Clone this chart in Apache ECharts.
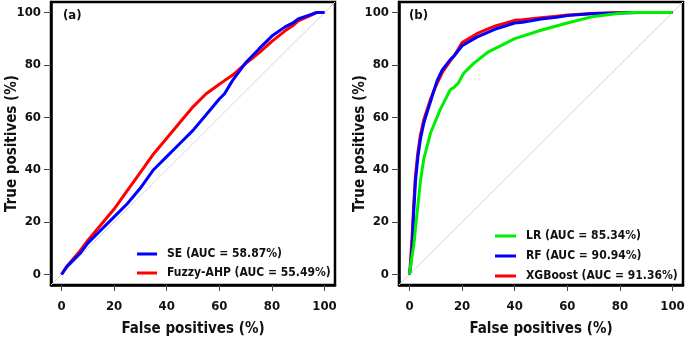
<!DOCTYPE html>
<html>
<head>
<meta charset="utf-8">
<script src="https://cdn.jsdelivr.net/npm/echarts@6/dist/echarts.min.js"></script>
<style>
  html, body { margin: 0; padding: 0; background: #fff; }
  #chart { width: 685px; height: 338px; }
</style>
</head>
<body>
<div id="chart"></div>
<script>
// tick labels shared by both panels
var ticks = [0, 20, 40, 60, 80, 100];

// panel (a)
var seX = [0, 2, 4, 7, 10, 15, 20, 25, 30, 35, 40, 45, 50, 55, 60, 62, 65, 70, 75, 80, 85, 88, 90, 95, 97, 100];
var seY = [0, 3, 5, 8, 12, 17, 22, 27, 33, 40, 45, 50, 55, 61, 67, 69, 74, 80.8, 86, 91, 94.5, 96, 97.5, 99.3, 100, 100];
var ahpX = [0, 2, 4, 7, 10, 15, 20, 25, 30, 35, 40, 45, 50, 55, 60, 62, 65, 70, 75, 80, 85, 88, 90, 95, 97, 100];
var ahpY = [0, 3, 5.5, 9, 13, 19, 25, 32, 39, 46, 52, 58, 64, 69, 72.6, 74, 76, 80.5, 84.5, 89, 93, 95, 96.8, 99, 100, 100];

// panel (b)
var lrX = [0, 0.5, 1.6, 2.9, 4.2, 5.4, 8, 11.7, 15.5, 17, 18.5, 20.6, 24.4, 30, 37, 40, 50, 60, 70, 80, 85, 100];
var lrY = [0, 4, 11, 23.7, 36, 44, 54, 63, 70.5, 71.5, 73, 76.8, 80.6, 85, 88.5, 90, 93.2, 96, 98.5, 99.7, 100, 100];
var rfX = [0, 0.4, 1, 1.6, 2.3, 3.2, 4.2, 5.5, 6.7, 8, 9.2, 10.5, 12.4, 15.5, 17, 20, 25.6, 30, 33, 40, 43, 50, 56, 60, 69, 80, 88, 100];
var rfY = [0, 3, 11, 24, 36, 45, 52, 58, 62, 66, 70, 74, 78, 82, 83.5, 87.3, 90.6, 92.5, 93.8, 96, 96.3, 97.5, 98.2, 98.8, 99.5, 99.8, 100, 100];
var xgbX = [0, 0.3, 0.9, 1.5, 2.2, 3.1, 4.1, 5.4, 6.7, 8, 9.2, 10.5, 12.4, 15.5, 17, 20, 25.6, 30, 33, 40, 43, 50, 56, 60, 71, 81, 100];
var xgbY = [0, 4, 13, 25, 37, 46, 53, 59, 63, 67, 70, 73, 77, 81.5, 83.5, 88.5, 91.9, 93.8, 95, 97, 97.2, 98, 98.6, 99, 99.7, 100, 100];

var diagonal = [[-4, -4], [104, 104]];

function pairs(xs, ys) {
    return xs.map(function(x, i) { return [x, ys[i]]; });
}

var font = "'DejaVu Sans Condensed', 'DejaVu Sans', sans-serif";

var myChart = echarts.init(document.getElementById('chart'));

function xAx(gi) {
    return {
        type: 'value', gridIndex: gi, min: -4, max: 104,
        name: 'False positives (%)', nameLocation: 'middle', nameGap: 37, nameMoveOverlap: false,
        nameTextStyle: { fontFamily: font, fontWeight: 'bold', fontSize: 15, color: '#111' },
        axisLine: { show: true, onZero: false, lineStyle: { color: '#000', width: 2.5 } },
        splitLine: { show: false },
        axisTick: { show: true, length: 6, customValues: ticks, lineStyle: { color: '#444', width: 1 } },
        axisLabel: { customValues: ticks, margin: 15, fontFamily: font, fontWeight: 'bold', fontSize: 13, color: '#111' }
    };
}
function yAx(gi) {
    return {
        type: 'value', gridIndex: gi, min: -4, max: 104,
        name: 'True positives (%)', nameLocation: 'middle', nameGap: 31, nameRotate: 90, nameMoveOverlap: false,
        nameTextStyle: { fontFamily: font, fontWeight: 'bold', fontSize: 15, color: '#111' },
        axisLine: { show: true, onZero: false, lineStyle: { color: '#000', width: 2.5 } },
        splitLine: { show: false },
        axisTick: { show: true, length: 7, customValues: ticks, lineStyle: { color: '#444', width: 1 } },
        axisLabel: { customValues: ticks, margin: 10, fontFamily: font, fontWeight: 'bold', fontSize: 13, color: '#111' }
    };
}
function curve(name, gi, data, color) {
    return {
        name: name, type: 'line', xAxisIndex: gi, yAxisIndex: gi,
        data: data, showSymbol: false, symbol: 'none',
        lineStyle: { color: color, width: 3 }, itemStyle: { color: color }
    };
}
function diag(gi) {
    return {
        type: 'line', xAxisIndex: gi, yAxisIndex: gi, data: diagonal,
        showSymbol: false, symbol: 'none', silent: true,
        lineStyle: { color: '#d6d6d6', width: 1 }
    };
}
var legendText = { fontFamily: font, fontWeight: 'bold', fontSize: 12, color: '#111', lineHeight: 14, padding: [0, 0, 0, 5] };

var option = {
    animation: false,
    backgroundColor: '#fff',
    title: [
        { text: '(a)', left: 58, top: 4, textStyle: { fontFamily: font, fontWeight: 'bold', fontSize: 13, color: '#111' } },
        { text: '(b)', left: 404, top: 4, textStyle: { fontFamily: font, fontWeight: 'bold', fontSize: 13, color: '#111' } }
    ],
    grid: [
        { left: 51, top: 2, width: 284, height: 283, outerBoundsMode: 'none', containLabel: false,
          show: true, borderColor: '#000', borderWidth: 2.5, backgroundColor: 'transparent' },
        { left: 399, top: 2, width: 284, height: 283, outerBoundsMode: 'none', containLabel: false,
          show: true, borderColor: '#000', borderWidth: 2.5, backgroundColor: 'transparent' }
    ],
    legend: [
        { data: ['SE (AUC = 58.87%)', 'Fuzzy-AHP (AUC = 55.49%)'], orient: 'vertical', left: 132, top: 242,
          icon: 'rect', itemWidth: 20, itemHeight: 3, itemGap: 5, textStyle: legendText },
        { data: ['LR (AUC = 85.34%)', 'RF (AUC = 90.94%)', 'XGBoost (AUC = 91.36%)'], orient: 'vertical', left: 490, top: 224,
          icon: 'rect', itemWidth: 21, itemHeight: 3, itemGap: 6, textStyle: legendText }
    ],
    xAxis: [xAx(0), xAx(1)],
    yAxis: [yAx(0), yAx(1)],
    series: [
        diag(0),
        curve('Fuzzy-AHP (AUC = 55.49%)', 0, pairs(ahpX, ahpY), '#ff0000'),
        curve('SE (AUC = 58.87%)', 0, pairs(seX, seY), '#0000ff'),
        diag(1),
        curve('XGBoost (AUC = 91.36%)', 1, pairs(xgbX, xgbY), '#ff0000'),
        curve('RF (AUC = 90.94%)', 1, pairs(rfX, rfY), '#0000ff'),
        curve('LR (AUC = 85.34%)', 1, pairs(lrX, lrY), '#00ee00')
    ]
};

myChart.setOption(option);
</script>
</body>
</html>
